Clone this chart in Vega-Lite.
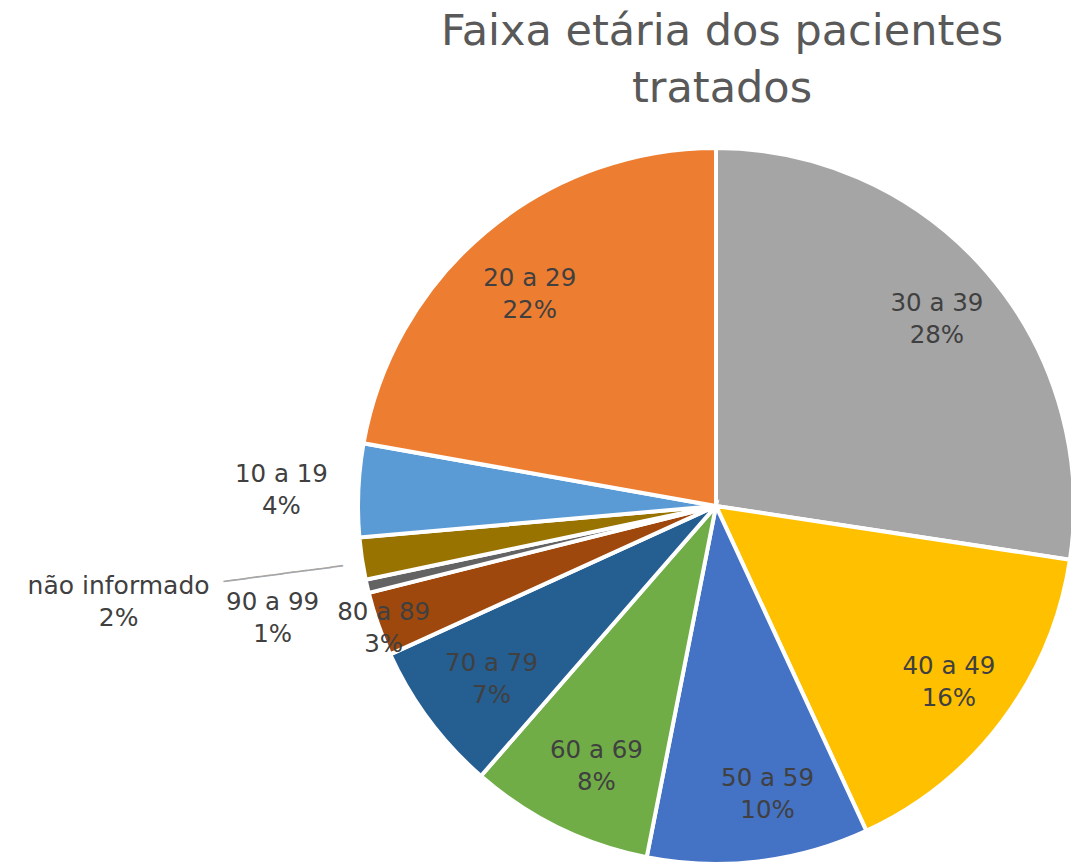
{
  "$schema": "https://vega.github.io/schema/vega-lite/v6.json",
  "autosize": "none",
  "padding": 0,
  "width": 1432,
  "height": 1012,
  "background": "white",
  "title": {
    "text": ["Faixa etária dos pacientes", "tratados"],
    "anchor": "middle",
    "font": "DejaVu Sans",
    "fontSize": 43,
    "fontWeight": "normal",
    "color": "#595959",
    "lineHeight": 57,
    "baseline": "top",
    "offset": -111,
    "dx": 6
  },
  "config": {"view": {"stroke": null}},
  "data": {
    "values": [
      {"faixa": "30 a 39", "valor": 27.4, "pct": "28%", "ordem": 1},
      {"faixa": "40 a 49", "valor": 15.7, "pct": "16%", "ordem": 2},
      {"faixa": "50 a 59", "valor": 10.0, "pct": "10%", "ordem": 3},
      {"faixa": "60 a 69", "valor": 8.3, "pct": "8%", "ordem": 4},
      {"faixa": "70 a 79", "valor": 6.8, "pct": "7%", "ordem": 5},
      {"faixa": "80 a 89", "valor": 2.9, "pct": "3%", "ordem": 6},
      {"faixa": "90 a 99", "valor": 0.6, "pct": "1%", "ordem": 7},
      {"faixa": "não informado", "valor": 1.9, "pct": "2%", "ordem": 8},
      {"faixa": "10 a 19", "valor": 4.2, "pct": "4%", "ordem": 9},
      {"faixa": "20 a 29", "valor": 22.2, "pct": "22%", "ordem": 10}
    ]
  },
  "transform": [
    {"calculate": "datum.faixa + '\\n' + datum.pct", "as": "rotulo"}
  ],
  "encoding": {
    "theta": {"field": "valor", "type": "quantitative", "stack": true},
    "order": {"field": "ordem", "type": "quantitative"}
  },
  "layer": [
    {
      "mark": {"type": "arc", "outerRadius": 358, "stroke": "white", "strokeWidth": 4},
      "encoding": {
        "color": {
          "field": "faixa",
          "type": "nominal",
          "legend": null,
          "scale": {
            "domain": ["30 a 39", "40 a 49", "50 a 59", "60 a 69", "70 a 79", "80 a 89", "90 a 99", "não informado", "10 a 19", "20 a 29"],
            "range": ["#A5A5A5", "#FFC000", "#4472C4", "#70AD47", "#255E91", "#9E480E", "#636363", "#997300", "#5B9BD5", "#ED7D31"]
          }
        }
      }
    },
    {
      "mark": {"type": "text", "radius": 290, "dy": -13, "dx": 1, "font": "DejaVu Sans", "fontSize": 24.5, "color": "#404040", "lineBreak": "\n", "lineHeight": 32, "baseline": "middle", "align": "center"},
      "encoding": {
        "text": {
          "condition": {"test": "datum.faixa == '30 a 39' || datum.faixa == '40 a 49'", "field": "rotulo"},
          "value": ""
        }
      }
    },
    {
      "mark": {"type": "text", "radius": 290, "dy": -15, "dx": 17, "font": "DejaVu Sans", "fontSize": 24.5, "color": "#404040", "lineBreak": "\n", "lineHeight": 32, "baseline": "middle", "align": "center"},
      "encoding": {
        "text": {
          "condition": {"test": "datum.faixa == '50 a 59'", "field": "rotulo"},
          "value": ""
        }
      }
    },
    {
      "mark": {"type": "text", "radius": 290, "dy": -15, "dx": 8, "font": "DejaVu Sans", "fontSize": 24.5, "color": "#404040", "lineBreak": "\n", "lineHeight": 32, "baseline": "middle", "align": "center"},
      "encoding": {
        "text": {
          "condition": {"test": "datum.faixa == '60 a 69' || datum.faixa == '70 a 79'", "field": "rotulo"},
          "value": ""
        }
      }
    },
    {
      "mark": {"type": "text", "radius": 290, "dy": -5, "font": "DejaVu Sans", "fontSize": 24.5, "color": "#404040", "lineBreak": "\n", "lineHeight": 32, "baseline": "middle", "align": "center"},
      "encoding": {
        "text": {
          "condition": {"test": "datum.faixa == '20 a 29'", "field": "rotulo"},
          "value": ""
        }
      }
    },
    {
      "mark": {"type": "text", "radius": 352, "dy": -9, "font": "DejaVu Sans", "fontSize": 24.5, "color": "#404040", "lineBreak": "\n", "lineHeight": 32, "baseline": "middle", "align": "center"},
      "encoding": {
        "text": {
          "condition": {"test": "datum.faixa == '80 a 89'", "field": "rotulo"},
          "value": ""
        }
      }
    },
    {
      "mark": {"type": "text", "radius": 435, "dy": -12, "font": "DejaVu Sans", "fontSize": 24.5, "color": "#404040", "lineBreak": "\n", "lineHeight": 32, "baseline": "middle", "align": "center"},
      "encoding": {
        "text": {
          "condition": {"test": "datum.faixa == '10 a 19'", "field": "rotulo"},
          "value": ""
        }
      }
    },
    {
      "mark": {"type": "text", "radius": 455, "dy": -5, "font": "DejaVu Sans", "fontSize": 24.5, "color": "#404040", "lineBreak": "\n", "lineHeight": 32, "baseline": "middle", "align": "center"},
      "encoding": {
        "text": {
          "condition": {"test": "datum.faixa == '90 a 99'", "field": "rotulo"},
          "value": ""
        }
      }
    },
    {
      "mark": {"type": "text", "radius": 604, "dy": -9, "font": "DejaVu Sans", "fontSize": 25, "color": "#404040", "lineBreak": "\n", "lineHeight": 32, "baseline": "middle", "align": "center"},
      "encoding": {
        "text": {
          "condition": {"test": "datum.faixa == 'não informado'", "field": "rotulo"},
          "value": ""
        }
      }
    },
    {
      "mark": {"type": "text", "radius": 438, "dy": 4, "font": "DejaVu Sans", "fontSize": 20, "color": "#A6A6A6", "angle": 352.5, "baseline": "middle", "align": "center"},
      "encoding": {
        "text": {
          "condition": {"test": "datum.faixa == 'não informado'", "value": "──────────"},
          "value": ""
        }
      }
    }
  ]
}
